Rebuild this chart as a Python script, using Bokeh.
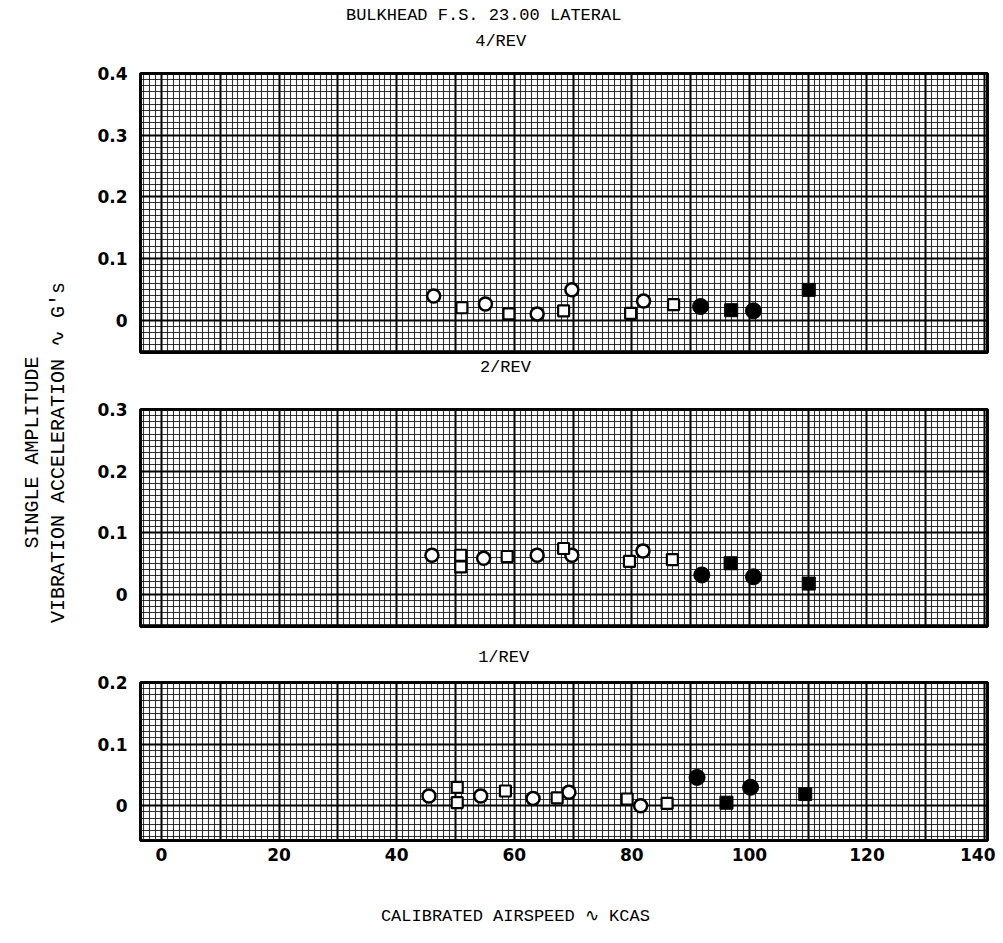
import math
from bokeh.plotting import figure
from bokeh.layouts import row, column
from bokeh.models import Range1d, FixedTicker
from bokeh.core.properties import value
from bokeh.embed import file_html
from bokeh.resources import INLINE

# ---------------- data ----------------
main_title = "BULKHEAD F.S. 23.00 LATERAL"
panel_titles = ["4/REV", "2/REV", "1/REV"]
x_label = "CALIBRATED AIRSPEED \u223f KCAS"
y_label_1 = "SINGLE AMPLITUDE"
y_label_2 = "VIBRATION ACCELERATION \u223f G's"
x_ticks = [0, 20, 40, 60, 80, 100, 120, 140]

# 4/REV
r4_oc_x = [46.3, 55.1, 63.9, 69.8, 82.0]
r4_oc_y = [0.039, 0.026, 0.010, 0.049, 0.031]
r4_os_x = [51.1, 59.1, 68.4, 79.8, 87.1]
r4_os_y = [0.020, 0.010, 0.015, 0.011, 0.025]
r4_fc_x = [91.7, 100.7]
r4_fc_y = [0.022, 0.015]
r4_fs_x = [96.9, 110.1]
r4_fs_y = [0.016, 0.049]

# 2/REV
r2_oc_x = [46.0, 54.8, 63.9, 69.8, 81.9]
r2_oc_y = [0.063, 0.058, 0.063, 0.063, 0.070]
r2_os_x = [50.9, 50.9, 58.8, 68.4, 79.6, 86.9]
r2_os_y = [0.063, 0.044, 0.061, 0.074, 0.053, 0.056]
r2_fc_x = [91.9, 100.7]
r2_fc_y = [0.031, 0.028]
r2_fs_x = [96.8, 110.1]
r2_fs_y = [0.050, 0.017]

# 1/REV
r1_oc_x = [45.5, 54.3, 63.2, 69.3, 81.5]
r1_oc_y = [0.016, 0.016, 0.012, 0.022, 0.000]
r1_os_x = [50.3, 50.3, 58.5, 67.3, 79.2, 86.0]
r1_os_y = [0.030, 0.005, 0.024, 0.013, 0.011, 0.004]
r1_fc_x = [91.1, 100.2]
r1_fc_y = [0.046, 0.030]
r1_fs_x = [96.1, 109.5]
r1_fs_y = [0.005, 0.019]

y_ticks_4 = [0, 0.1, 0.2, 0.3, 0.4]
y_ticks_2 = [0, 0.1, 0.2, 0.3]
y_ticks_1 = [0, 0.1, 0.2]

# ---------------- styling ----------------
TITLE_FONT = "Liberation Mono"
TICK_FONT = "DejaVu Sans"
X0, X1 = -3.57, 140.5
LEFT_B, FRAME_W, RIGHT_B = 62, 847, 8


def make_panel(y0, y1, yticks, frame_h, top_b, bot_b, show_x):
    p = figure(width=LEFT_B + FRAME_W + RIGHT_B, height=top_b + frame_h + bot_b,
               frame_width=FRAME_W, frame_height=frame_h,
               min_border_left=LEFT_B, min_border_right=RIGHT_B,
               min_border_top=top_b, min_border_bottom=bot_b,
               x_range=Range1d(X0, X1), y_range=Range1d(y0, y1),
               output_backend="svg", toolbar_location=None,
               background_fill_color="white", border_fill_color="white")
    p.xgrid.ticker = FixedTicker(ticks=list(range(-10, 151, 10)),
                                 minor_ticks=list(range(-5, 146, 1)))
    yt_major = [round(-0.1 + 0.1 * i, 2) for i in range(7)]
    yt_minor = [round(-0.06 + 0.01 * i, 3) for i in range(50)]
    p.ygrid.ticker = FixedTicker(ticks=yt_major, minor_ticks=yt_minor)
    for g in (p.xgrid, p.ygrid):
        g.grid_line_color = "black"
        g.grid_line_width = 2
        g.grid_line_alpha = 1.0
        g.minor_grid_line_color = "#111111"
        g.minor_grid_line_alpha = 0.85
        g.minor_grid_line_width = 1.1
    p.outline_line_color = "black"
    p.outline_line_width = 3
    p.outline_line_alpha = 1

    p.yaxis.ticker = FixedTicker(ticks=yticks)
    p.yaxis.major_label_overrides = {t: ("0" if t == 0 else f"{t:.1f}") for t in yticks}
    p.yaxis.axis_line_color = None
    p.yaxis.major_tick_line_color = None
    p.yaxis.minor_tick_line_color = None
    p.yaxis.major_label_standoff = 7
    p.yaxis.major_label_text_font = TICK_FONT
    p.yaxis.major_label_text_font_style = "bold"
    p.yaxis.major_label_text_font_size = "17px"
    p.yaxis.major_label_text_color = "black"

    if show_x:
        p.xaxis.ticker = FixedTicker(ticks=x_ticks)
        p.xaxis.axis_line_color = None
        p.xaxis.major_tick_line_color = None
        p.xaxis.minor_tick_line_color = None
        p.xaxis.major_label_standoff = 1
        p.xaxis.major_label_text_font = TICK_FONT
        p.xaxis.major_label_text_font_style = "bold"
        p.xaxis.major_label_text_font_size = "17px"
        p.xaxis.major_label_text_color = "black"
    else:
        p.xaxis.visible = False
    return p


def add_points(p, ocx, ocy, osx, osy, fcx, fcy, fsx, fsy):
    p.scatter(ocx, ocy, marker="circle", size=13, line_color="black",
              line_width=2.5, fill_color="white")
    p.scatter(osx, osy, marker="square", size=11, line_color="black",
              line_width=2.2, fill_color="white")
    p.scatter(fcx, fcy, marker="circle", size=16, line_color="black",
              line_width=1, fill_color="black")
    p.scatter(fsx, fsy, marker="square", size=13, line_color="black",
              line_width=1, fill_color="black")


def make_strip(h, xs, ys, texts):
    s = figure(width=LEFT_B + FRAME_W + RIGHT_B, height=h,
               frame_width=FRAME_W, frame_height=h,
               min_border_left=LEFT_B, min_border_right=RIGHT_B,
               min_border_top=0, min_border_bottom=0,
               x_range=Range1d(X0, X1), y_range=Range1d(h, 0),
               output_backend="svg", toolbar_location=None,
               outline_line_color=None, background_fill_color="white",
               border_fill_color="white")
    s.axis.visible = False
    s.grid.visible = False
    s.text(x=xs, y=ys, text=texts, text_align="center", text_baseline="middle",
           text_font=value(TITLE_FONT), text_font_size="17px", text_color="black")
    return s


strip4 = make_strip(63, [54.8, 57.7], [15, 41], [main_title, panel_titles[0]])
p4 = make_panel(-0.0526, 0.4, y_ticks_4, 279, 10, 4, False)
add_points(p4, r4_oc_x, r4_oc_y, r4_os_x, r4_os_y, r4_fc_x, r4_fc_y, r4_fs_x, r4_fs_y)

strip2 = make_strip(43, [58.5], [11], [panel_titles[1]])
p2 = make_panel(-0.0528, 0.3, y_ticks_2, 217, 10, 4, False)
add_points(p2, r2_oc_x, r2_oc_y, r2_os_x, r2_os_y, r2_fc_x, r2_fc_y, r2_fs_x, r2_fs_y)

strip1 = make_strip(42, [58.2], [27], [panel_titles[2]])
p1 = make_panel(-0.0563, 0.2, y_ticks_1, 158, 10, 30, True)
add_points(p1, r1_oc_x, r1_oc_y, r1_os_x, r1_os_y, r1_fc_x, r1_fc_y, r1_fs_x, r1_fs_y)

stripx = make_strip(65, [60.2], [46], [x_label])

# left strip carrying the shared y-axis label
TOTAL_H = 63 + 293 + 43 + 231 + 42 + 198 + 65
lab = figure(width=78, height=TOTAL_H, x_range=Range1d(0, 78), y_range=Range1d(TOTAL_H, 0),
             min_border=0, output_backend="svg", toolbar_location=None,
             outline_line_color=None, border_fill_color="white",
             background_fill_color="white")
lab.axis.visible = False
lab.grid.visible = False
lab.text(x=[32, 58], y=[452, 452], text=[y_label_1, y_label_2], angle=math.pi / 2,
         text_align="center", text_baseline="middle",
         text_font=value(TITLE_FONT), text_font_size="20px", text_color="black")

layout = row(lab, column(strip4, p4, strip2, p2, strip1, p1, stripx, spacing=0), spacing=0)
open("out.html", "w").write(file_html(layout, INLINE))
